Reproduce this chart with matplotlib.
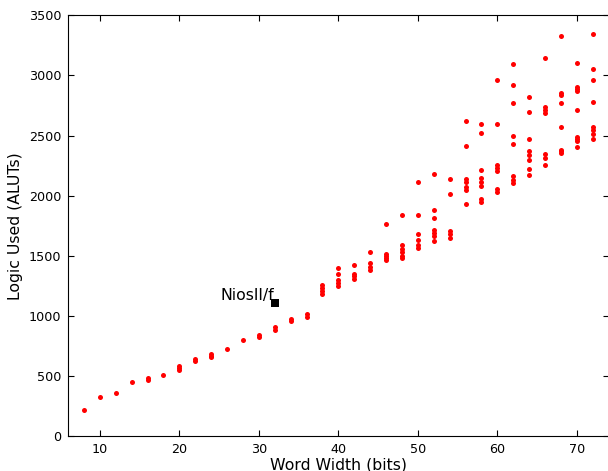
import matplotlib
matplotlib.use("Agg")
import matplotlib.pyplot as plt

# word width -> logic used (ALUTs), one list per width
widths = [8, 10, 12, 14, 16, 18, 20, 22, 24, 26, 28, 30, 32, 34, 36, 38, 40, 42, 44, 46,
          48, 50, 52, 54, 56, 58, 60, 62, 64, 66, 68, 70, 72]
aluts = [
    [214],
    [325],
    [361],
    [447],
    [467, 482],
    [505],
    [552, 568, 583],
    [622, 640],
    [655, 668, 680],
    [722],
    [800],
    [825, 840],
    [885, 903],
    [955, 970],
    [992, 1012],
    [1185, 1210, 1235, 1258],
    [1397, 1350, 1300, 1275, 1250],
    [1425, 1350, 1328, 1306],
    [1530, 1438, 1410, 1385],
    [1764, 1517, 1497, 1480, 1463],
    [1842, 1586, 1555, 1530, 1500, 1478],
    [2111, 1842, 1683, 1630, 1588, 1566],
    [2183, 1883, 1814, 1711, 1690, 1667, 1619],
    [2136, 2017, 1703, 1680, 1650],
    [2619, 2417, 2139, 2110, 2070, 2050, 1928],
    [2597, 2522, 2217, 2144, 2110, 2078, 1975, 1950],
    [2961, 2597, 2258, 2230, 2203, 2058, 2033],
    [3092, 2922, 2772, 2500, 2428, 2161, 2133, 2106],
    [2819, 2697, 2472, 2369, 2335, 2300, 2225, 2169],
    [3147, 2736, 2712, 2689, 2350, 2314, 2256],
    [3328, 2856, 2840, 2767, 2569, 2383, 2370, 2356],
    [3100, 2906, 2887, 2869, 2711, 2489, 2470, 2453, 2406],
    [3342, 3050, 2964, 2778, 2569, 2545, 2510, 2475],
]

nios_width = 32
nios_aluts = 1105
nios_label = "NiosII/f"

xs = [w for w, vals in zip(widths, aluts) for _ in vals]
ys = [v for vals in aluts for v in vals]

fig = plt.figure(figsize=(6.08, 4.71), dpi=100)
ax = fig.add_axes([0.112, 0.0743, 0.889, 0.893])

ax.plot(xs, ys, 'o', color='red', mew=0, ms=3.6, ls='none')
ax.plot([nios_width], [nios_aluts], 's', color='black', mew=0, ms=5.5)
ax.text(nios_width - 0.1, nios_aluts + 5, nios_label, ha='right', va='bottom', fontsize=11.3)

ax.set_xlim(6, 74)
ax.set_ylim(0, 3500)
ax.set_xticks([10, 20, 30, 40, 50, 60, 70])
ax.set_yticks(range(0, 3501, 500))
ax.tick_params(direction='in', top=True, right=True, length=4, labelsize=9.2, pad=5)
ax.set_xlabel('Word Width (bits)', fontsize=11.3, labelpad=1)
ax.set_ylabel('Logic Used (ALUTs)', fontsize=11.3)

fig.savefig('out.png', dpi=100)
